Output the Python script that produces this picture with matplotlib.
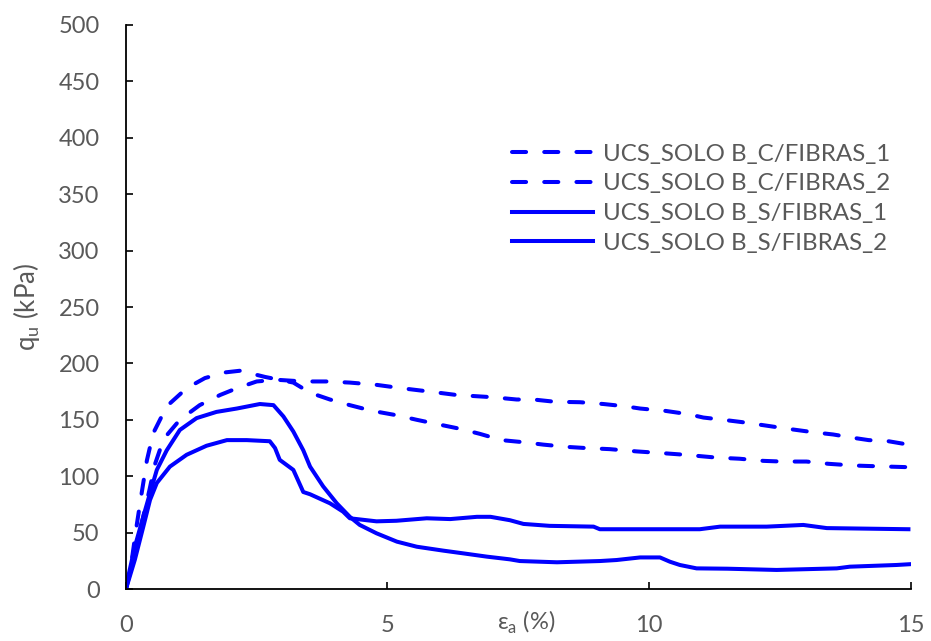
import matplotlib
matplotlib.use("Agg")
import matplotlib.pyplot as plt

plt.rcParams['font.family'] = ['Lato', 'DejaVu Sans']
plt.rcParams['mathtext.fontset'] = 'custom'
plt.rcParams['mathtext.rm'] = 'Lato'

# axial strain (%) and deviator stress (kPa)
x_cf1 = [0, 0.15, 0.30, 0.45, 0.55, 0.72, 1.03, 1.41, 1.80, 2.12, 2.50, 2.88, 3.39, 3.84,
         4.28, 4.79, 5.27, 5.81, 6.32, 7.02, 7.47, 7.79, 8.20, 8.68, 9.13, 9.54, 9.83,
         10.30, 10.75, 11.04, 11.42, 11.77, 12.22, 12.66, 13.14, 13.52, 13.91, 14.20,
         14.58, 14.96]
q_cf1 = [0, 28, 58, 88, 110, 133, 150, 163, 172, 178, 184, 185.5, 184, 184,
         183, 181, 178, 175, 172, 170, 168, 168, 166, 165.6, 164, 162, 160,
         158, 155, 152, 150, 148, 145, 142, 139, 137, 134, 132,
         131, 128]

x_cf2 = [0, 0.10, 0.20, 0.30, 0.40, 0.52, 0.78, 1.16, 1.51, 1.89, 2.18, 2.66, 3.20, 3.52,
         3.90, 4.28, 4.70, 5.18, 5.56, 5.97, 6.39, 6.77, 7.18, 7.63, 7.98, 8.43, 8.78,
         9.25, 9.76, 10.24, 10.69, 11.29, 11.73, 12.19, 12.54, 13.01, 13.43, 13.91,
         14.23, 14.96]
q_cf2 = [0, 22, 55, 85, 114, 138, 162, 178, 187, 192, 193.5, 188, 183, 174,
         168, 163, 158, 154, 150, 146, 142, 137.5, 132, 130, 128, 126, 125,
         124, 122, 120.5, 119, 116.5, 115.5, 113.6, 113, 113, 111, 109.5,
         109, 108]

x_sf1 = [0, 0.17, 0.33, 0.46, 0.59, 0.78, 1.03, 1.35, 1.73, 2.12, 2.56, 2.82, 3.01, 3.20,
         3.39, 3.52, 3.77, 4.03, 4.28, 4.47, 4.79, 5.18, 5.56, 6.07, 6.45, 6.90, 7.34,
         7.53, 8.24, 9.06, 9.38, 9.83, 10.21, 10.40, 10.59, 10.91, 11.50, 12.44, 13.59,
         13.84, 14.73, 14.99]
q_sf1 = [2, 37.5, 64, 85, 105.6, 123, 141, 151.5, 157, 160, 164, 163, 153, 139.6,
         123, 108.5, 91, 76, 64, 56.8, 49.4, 42, 37.5, 34, 31.6, 28.7, 26.3,
         24.8, 23.7, 24.8, 25.7, 28, 28, 24.2, 21.3, 18.3, 18, 16.9, 18.3,
         19.8, 21.3, 22]

x_sf2 = [0, 0.17, 0.33, 0.46, 0.59, 0.84, 1.16, 1.54, 1.93, 2.31, 2.75, 2.85, 2.94, 3.20,
         3.39, 3.52, 3.90, 4.15, 4.28, 4.79, 5.17, 5.75, 6.20, 6.71, 6.97, 7.34, 7.60,
         8.10, 8.94, 9.06, 10.97, 11.36, 12.25, 12.95, 13.40, 14.96]
q_sf2 = [0, 26, 55, 79, 94, 108.5, 119, 127, 132, 132, 131, 125, 114.5, 105.6,
         86, 84, 76, 68.6, 62.7, 60, 60.5, 62.7, 62, 64, 64, 61, 57.7,
         56, 55.3, 53, 53, 55.3, 55.3, 56.8, 54, 53]

labels = ['UCS_SOLO B_C/FIBRAS_1', 'UCS_SOLO B_C/FIBRAS_2',
          'UCS_SOLO B_S/FIBRAS_1', 'UCS_SOLO B_S/FIBRAS_2']

blue = '#0000FF'
grey = '#595959'
lw = 2.9
dash = (0, (3.5, 4.5))

fig = plt.figure(figsize=(9.31, 6.41), dpi=100)
ax = fig.add_axes([0.1353, 0.0811, 0.8427, 0.8799])

ax.plot(x_cf1, q_cf1, color=blue, lw=lw, linestyle=dash, dash_capstyle='round', label=labels[0])
ax.plot(x_cf2, q_cf2, color=blue, lw=lw, linestyle=dash, dash_capstyle='round', label=labels[1])
ax.plot(x_sf1, q_sf1, color=blue, lw=lw, solid_joinstyle='round', label=labels[2])
ax.plot(x_sf2, q_sf2, color=blue, lw=lw, solid_joinstyle='round', label=labels[3])

ax.set_xlim(0, 15)
ax.set_ylim(0, 500)
ax.set_xticks([0, 5, 10, 15])
ax.set_yticks(range(0, 501, 50))
ax.spines['top'].set_visible(False)
ax.spines['right'].set_visible(False)
for s in ('left', 'bottom'):
    ax.spines[s].set_linewidth(1.3)
ax.tick_params(axis='both', direction='in', length=5, width=1.2,
               labelsize=17, labelcolor=grey, color='black')
ax.tick_params(axis='x', pad=19)
ax.tick_params(axis='y', pad=19)

ax.set_ylabel('q$_\\mathrm{u}$ (kPa)', fontsize=18.5, color=grey)
ax.yaxis.set_label_coords(-0.107, 0.5)
ax.set_xlabel('ε$_\\mathrm{a}$ (%)', fontsize=17, color=grey)
ax.xaxis.set_label_coords(0.51, -0.035)

ax.legend(loc='upper left', bbox_to_anchor=(0.55, 0.776), bbox_transform=fig.transFigure,
          frameon=False, fontsize=17.4, handlelength=3.35, handletextpad=0.41,
          labelspacing=0.36, labelcolor=grey, borderaxespad=0, borderpad=0)

fig.savefig('out.png', dpi=100)
